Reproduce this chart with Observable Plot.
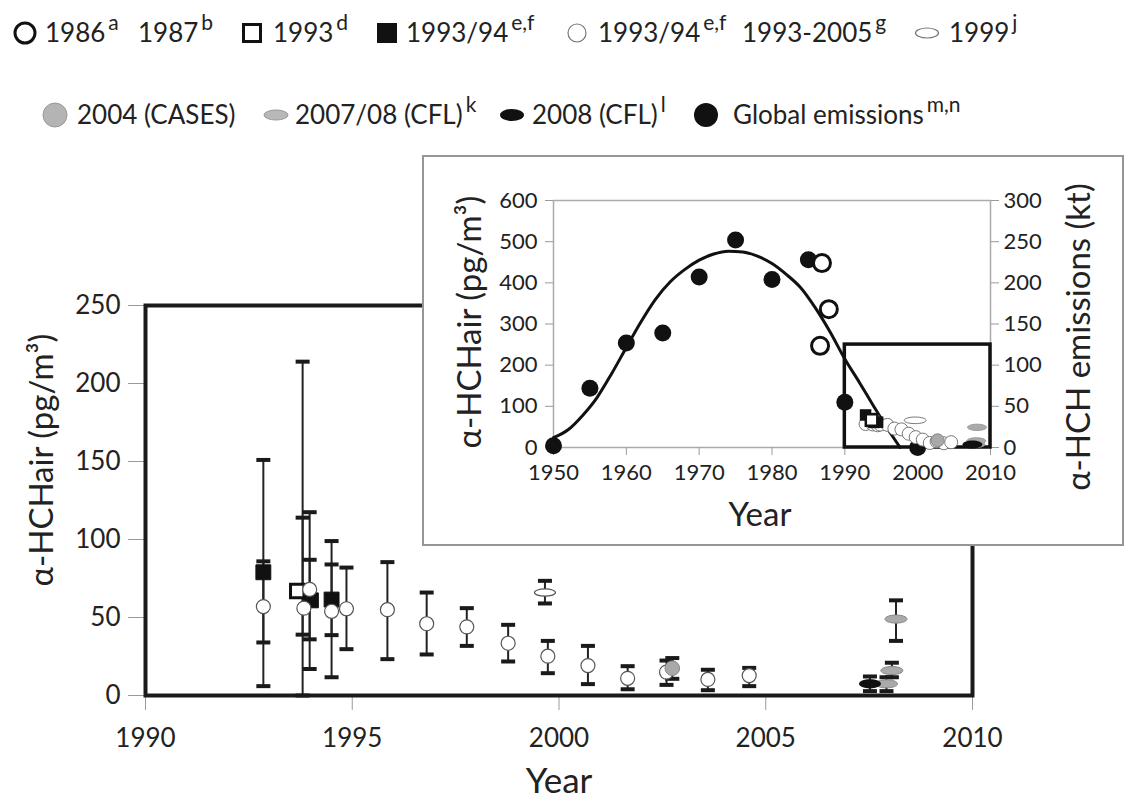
<!DOCTYPE html>
<html><head><meta charset="utf-8">
<script src="https://cdn.jsdelivr.net/npm/d3@7"></script>
<script src="https://cdn.jsdelivr.net/npm/@observablehq/plot@0.6"></script>
<style>
body{margin:0;background:#fff;font-family:Lato,"Open Sans",sans-serif;color:#222}
#wrap{position:relative;width:1128px;height:801px;overflow:hidden;background:#fff}
.abs{position:absolute}
.lg{position:absolute;font-size:26px;line-height:36px;white-space:nowrap;color:#222}
.lg sup{font-size:21px;position:relative;top:-12px;vertical-align:baseline;margin-left:3px}
.ttl{position:absolute;white-space:nowrap;line-height:1;color:#222;transform-origin:center}
</style></head><body><div id="wrap"></div>
<script>
// ---------------- DATA ----------------
// main chart (pg/m3)
const mainXDomain = [1990, 2010];
const mainYDomain = [0, 250];
const mainXTicks = [1990, 1995, 2000, 2005, 2010];
const mainYTicks = [0, 50, 100, 150, 200, 250];

// 1993/94 (e,f) and 1993-2005 (g): open circles
const openCircYear = [1992.85, 1993.83, 1993.97, 1994.5, 1994.86, 1995.85, 1996.8, 1997.77, 1998.77, 1999.73, 2000.7, 2001.66, 2002.6, 2003.6, 2004.6];
const openCircVal  = [57, 56, 68, 54, 55.6, 55, 46, 44, 33.5, 25.2, 19.2, 11, 15, 10.3, 12.8];
// 1993/94 (e,f): filled squares
const filledSqYear = [1992.85, 1994.0, 1994.5];
const filledSqVal  = [79, 61, 61.5];
// 1993 (d): open square
const openSqYear = [1993.67];
const openSqVal  = [67];
// 1999 (j)
const e1999Year = [1999.66];
const e1999Val  = [66];
// 2004 (CASES)
const casesYear = [2002.74];
const casesVal  = [17.5];
// 2007/08 (CFL) k
const cfl0708Year = [2007.92, 2008.05, 2008.15];
const cfl0708Val  = [7.5, 16, 49];
// 2008 (CFL) l
const cfl08Year = [2007.52];
const cfl08Val  = [7.5];
// error bars
const errYear = [1992.85, 1992.85, 1993.8, 1993.8, 1993.97, 1993.97, 1994.5, 1994.5, 1994.86, 1995.85, 1996.8, 1997.77, 1998.77, 1999.66, 1999.73, 2000.7, 2001.66, 2002.6, 2002.74, 2003.6, 2004.6, 2007.52, 2007.92, 2008.05, 2008.15];
const errLow  = [6, 34, 0, 39, 17, 36, 11.7, 38.7, 29.7, 23.3, 26.3, 31.8, 21.8, 59, 14.3, 7.3, 4, 6.8, 10.7, 3.4, 6, 2.8, 2.8, 11.7, 35];
const errHigh = [151, 86, 214, 114, 117.5, 87, 99, 84, 82, 85.5, 66, 56, 45.3, 73.5, 35, 31.8, 18.8, 22.4, 24, 16.5, 17.7, 12.2, 11.7, 21, 61];

// inset (left axis pg/m3, right axis kt)
const insetXDomain = [1950, 2010];
const insetYDomain = [0, 600];
const insetXTicks = [1950, 1960, 1970, 1980, 1990, 2000, 2010];
const insetYTicks = [0, 100, 200, 300, 400, 500, 600];
const ktToLeft = 600 / 300;
// global emissions (kt)
const emisYear = [1950, 1955, 1960, 1965, 1970, 1975, 1980, 1985, 1990, 2000];
const emisKt   = [2, 72, 127, 139, 207, 252, 204, 228, 55, 0];
// 1986 (a), 1987 (b)
const histYear = [1986.86, 1987.8, 1986.6];
const histVal  = [448, 336, 247];
// fitted curve
const fitYear = [1950, 1952, 1954, 1956, 1958, 1960, 1962, 1964, 1966, 1968, 1970, 1972, 1974, 1976, 1978, 1980, 1982, 1984, 1986, 1988, 1990, 1992, 1994, 1996, 1997.6];
const fitVal  = [24, 43, 78, 122, 180, 243, 305, 360, 402, 432, 455, 470, 477, 475, 465, 447, 420, 387, 338, 280, 215, 158, 99, 42, 0];

// legend
const legendLabels = ["1986", "1987", "1993", "1993/94", "1993/94", "1993-2005", "1999", "2004 (CASES)", "2007/08 (CFL)", "2008 (CFL)", "Global emissions"];
const legendSups   = ["a", "b", "d", "e,f", "e,f", "g", "j", "", "k", "l", "m,n"];

// ---------------- LAYOUT / STYLE ----------------
const legendLayout = [ // row, symbol, symbol x, text x
  [0, "boldCircle", 25, 45], [0, null, 0, 138], [0, "openSquare", 252, 273], [0, "filledSquare", 387, 406],
  [0, "thinCircle", 577, 598], [0, null, 0, 742], [0, "thinEllipse", 927, 949],
  [1, "grayCircle", 55, 77], [1, "grayEllipse", 276, 295], [1, "blackEllipse", 512, 532], [1, "blackCircle", 706, 733]
];
const legendRowY = [33, 115];
const symbolSvg = {
  boldCircle: '<circle cx="15" cy="15" r="10" fill="#fff" stroke="#111" stroke-width="3"/>',
  openSquare: '<rect x="6.5" y="6.5" width="17" height="17" fill="#fff" stroke="#111" stroke-width="3"/>',
  filledSquare: '<rect x="5" y="5" width="20" height="20" fill="#111"/>',
  thinCircle: '<circle cx="15" cy="15" r="9" fill="#fff" stroke="#777" stroke-width="1.2"/>',
  thinEllipse: '<ellipse cx="15" cy="15" rx="11.5" ry="5" fill="#fff" stroke="#777" stroke-width="1.2"/>',
  grayCircle: '<circle cx="15" cy="15" r="12" fill="#b4b4b4" stroke="#999" stroke-width="1"/>',
  grayEllipse: '<ellipse cx="15" cy="15" rx="12" ry="5" fill="#b8b8b8" stroke="#999" stroke-width="1"/>',
  blackEllipse: '<ellipse cx="15" cy="15" rx="12" ry="6" fill="#111"/>',
  blackCircle: '<circle cx="15" cy="15" r="12" fill="#111"/>'
};

const FONT = "Lato, 'Open Sans', sans-serif";
const rows = (xs, ys) => xs.map((x, i) => ({x, y: ys[i]}));
function ellipseSymbol(aspect) {
  return {draw(ctx, size) {
    const rx = Math.sqrt(size / Math.PI), ry = rx * aspect, k = 0.5523;
    ctx.moveTo(rx, 0);
    ctx.bezierCurveTo(rx, ry * k, rx * k, ry, 0, ry);
    ctx.bezierCurveTo(-rx * k, ry, -rx, ry * k, -rx, 0);
    ctx.bezierCurveTo(-rx, -ry * k, -rx * k, -ry, 0, -ry);
    ctx.bezierCurveTo(rx * k, -ry, rx, -ry * k, rx, 0);
    ctx.closePath();
  }};
}
const capSymbol = {draw(ctx, size) { const r = Math.sqrt(size / Math.PI); ctx.moveTo(-r, 0); ctx.lineTo(r, 0); }};

const errBars = errYear.map((x, i) => ({x, lo: errLow[i], hi: errHigh[i]}));
const wrap = document.getElementById("wrap");

// ---------------- MAIN CHART ----------------
const main = Plot.plot({
  width: 1128, height: 801,
  marginLeft: 145, marginRight: 156, marginTop: 305, marginBottom: 106,
  style: {fontFamily: FONT, color: "#222", background: "transparent"},
  x: {domain: mainXDomain},
  y: {domain: mainYDomain},
  marks: [
    Plot.axisY({ticks: mainYTicks, tickSize: 17, tickPadding: 8, stroke: "#9a9a9a", fill: "#222", fontSize: 26, label: null, tickFormat: d3.format("d")}),
    Plot.axisX({ticks: mainXTicks, tickSize: 15, tickPadding: 18, stroke: "#9a9a9a", fill: "#222", fontSize: 26, label: null, tickFormat: d3.format("d")}),
    Plot.ruleX(errBars, {x: "x", y1: "lo", y2: "hi", stroke: "#222", strokeWidth: 2}),
    Plot.dot(errBars, {x: "x", y: "lo", symbol: capSymbol, r: 7, fill: "none", stroke: "#1a1a1a", strokeWidth: 4}),
    Plot.dot(errBars, {x: "x", y: "hi", symbol: capSymbol, r: 7, fill: "none", stroke: "#1a1a1a", strokeWidth: 4}),
    Plot.dot(rows(filledSqYear, filledSqVal), {x: "x", y: "y", symbol: "square", r: 8.4, fill: "#111", stroke: "#111", strokeWidth: 1}),
    Plot.dot(rows(openSqYear, openSqVal), {x: "x", y: "y", symbol: "square", r: 7.6, fill: "#fff", stroke: "#111", strokeWidth: 3}),
    Plot.dot(rows(openCircYear, openCircVal), {x: "x", y: "y", r: 7, fill: "#fff", stroke: "#555", strokeWidth: 1.2}),
    Plot.dot(rows(casesYear, casesVal), {x: "x", y: "y", r: 7.3, fill: "#a9a9a9", stroke: "#888", strokeWidth: 1}),
    Plot.dot(rows(e1999Year, e1999Val), {x: "x", y: "y", symbol: ellipseSymbol(0.34), r: 10.5, fill: "#fff", stroke: "#555", strokeWidth: 1.2}),
    Plot.dot(rows(cfl0708Year, cfl0708Val), {x: "x", y: "y", symbol: ellipseSymbol(0.37), r: 11, fill: "#aaa", stroke: "#888", strokeWidth: 1}),
    Plot.dot(rows(cfl08Year, cfl08Val), {x: "x", y: "y", symbol: ellipseSymbol(0.42), r: 11, fill: "#111"}),
    Plot.frame({stroke: "#1a1a1a", strokeWidth: 4})
  ]
});
main.style.position = "absolute"; main.style.left = "0px"; main.style.top = "0px";
wrap.appendChild(main);

// ---------------- INSET ----------------
const insetBox = document.createElement("div");
insetBox.className = "abs";
Object.assign(insetBox.style, {left: "423px", top: "156px", width: "700px", height: "389px", background: "#fff"});
const inset = Plot.plot({
  width: 700, height: 389,
  marginLeft: 130, marginRight: 133, marginTop: 44, marginBottom: 98,
  style: {fontFamily: FONT, color: "#222", background: "transparent"},
  x: {domain: insetXDomain},
  y: {domain: insetYDomain},
  marks: [
    Plot.frame({stroke: "#aaa", strokeWidth: 1.5}),
    Plot.axisY({ticks: insetYTicks, tickSize: 8, tickPadding: 8, stroke: "#9a9a9a", fill: "#222", fontSize: 22, label: null, tickFormat: d3.format("d")}),
    Plot.axisY({anchor: "right", ticks: insetYTicks, tickSize: 8, tickPadding: 5, stroke: "#9a9a9a", fill: "#222", fontSize: 22, label: null, tickFormat: d => d3.format("d")(d / ktToLeft)}),
    Plot.axisX({ticks: insetXTicks, tickSize: 8, tickPadding: 9, stroke: "#9a9a9a", fill: "#222", fontSize: 22, label: null, tickFormat: d3.format("d")}),
    Plot.line(rows(fitYear, fitVal), {x: "x", y: "y", curve: "monotone-x", stroke: "#111", strokeWidth: 3}),
    Plot.rect([{x1: mainXDomain[0], x2: mainXDomain[1], y1: mainYDomain[0], y2: mainYDomain[1]}], {x1: "x1", x2: "x2", y1: "y1", y2: "y2", fill: "none", stroke: "#111", strokeWidth: 3.5}),
    Plot.dot(emisYear.map((x, i) => ({x, y: emisKt[i] * ktToLeft})), {x: "x", y: "y", r: 8.5, fill: "#111"}),
    Plot.dot(rows(histYear, histVal), {x: "x", y: "y", r: 8.5, fill: "#fff", stroke: "#111", strokeWidth: 3}),
    Plot.dot(rows(openCircYear, openCircVal), {x: "x", y: "y", r: 6.5, fill: "#fff", stroke: "#777", strokeWidth: 1}),
    Plot.dot(rows(casesYear, casesVal), {x: "x", y: "y", r: 6.5, fill: "#a9a9a9", stroke: "#888", strokeWidth: 1}),
    Plot.dot(rows(e1999Year, e1999Val), {x: "x", y: "y", symbol: ellipseSymbol(0.3), r: 11, fill: "#fff", stroke: "#777", strokeWidth: 1}),
    Plot.dot(rows(cfl0708Year, cfl0708Val), {x: "x", y: "y", symbol: ellipseSymbol(0.33), r: 9.5, fill: "#aaa", stroke: "#999", strokeWidth: 1}),
    Plot.dot(rows(cfl08Year, cfl08Val), {x: "x", y: "y", symbol: ellipseSymbol(0.4), r: 10, fill: "#111"}),
    Plot.dot(rows(filledSqYear, filledSqVal), {x: "x", y: "y", symbol: "square", r: 6.5, fill: "#111"}),
    Plot.dot(rows(openSqYear, openSqVal), {x: "x", y: "y", symbol: "square", r: 6.5, fill: "#fff", stroke: "#111", strokeWidth: 2.5})
  ]
});
insetBox.appendChild(inset);
wrap.appendChild(insetBox);
const insetBorder = document.createElement("div");
insetBorder.className = "abs";
Object.assign(insetBorder.style, {left: "422px", top: "155px", width: "702px", height: "391px", boxSizing: "border-box", border: "2px solid #969696"});
wrap.appendChild(insetBorder);

// ---------------- TITLES ----------------
function title(html, cx, cy, size, rot) {
  const d = document.createElement("div");
  d.className = "ttl";
  d.innerHTML = html;
  Object.assign(d.style, {left: cx + "px", top: cy + "px", fontSize: size + "px",
    transform: "translate(-50%,-50%)" + (rot ? " rotate(" + rot + "deg)" : "")});
  wrap.appendChild(d);
}
title("α-HCHair (pg/m³)", 40, 460, 33, -90);
title("Year", 559, 779, 35, 0);
title("α-HCHair (pg/m³)", 468, 322, 33, -90);
title("Year", 760, 513, 33, 0);
title("α-HCH emissions (kt)", 1077, 337, 33, -90);

// ---------------- LEGEND ----------------
legendLayout.forEach(([row, sym, sx, tx], i) => {
  const cy = legendRowY[row];
  if (sym) {
    const s = document.createElementNS("http://www.w3.org/2000/svg", "svg");
    s.setAttribute("width", 30); s.setAttribute("height", 30);
    s.innerHTML = symbolSvg[sym];
    Object.assign(s.style, {position: "absolute", left: (sx - 15) + "px", top: (cy - 15) + "px"});
    wrap.appendChild(s);
  }
  const t = document.createElement("div");
  t.className = "lg";
  t.innerHTML = legendLabels[i] + (legendSups[i] ? "<sup>" + legendSups[i] + "</sup>" : "");
  Object.assign(t.style, {left: tx + "px", top: (cy - 19) + "px"});
  wrap.appendChild(t);
});
</script>
</body></html>
